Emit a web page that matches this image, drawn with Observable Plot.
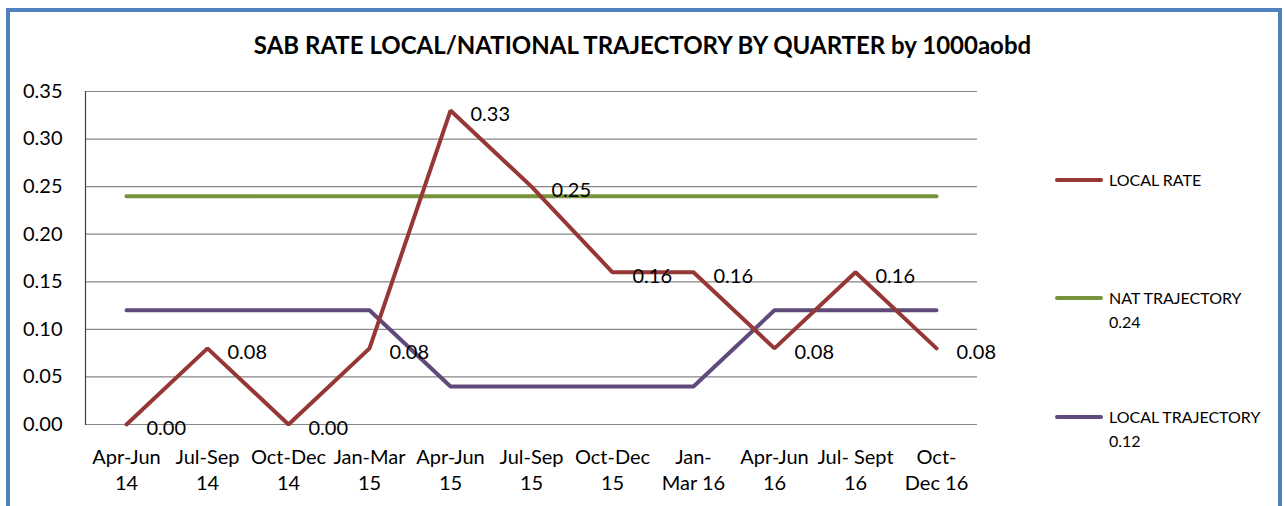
<!DOCTYPE html>
<html>
<head>
<meta charset="utf-8">
<script src="https://cdn.jsdelivr.net/npm/d3@7"></script>
<script src="https://cdn.jsdelivr.net/npm/@observablehq/plot@0.6"></script>
<style>
  html, body { margin: 0; padding: 0; background: #fff; }
  #wrap { position: relative; width: 1285px; height: 506px; overflow: hidden; font-family: Lato, "Open Sans", sans-serif; }
  #border { position: absolute; left: 6px; top: 8px; width: 1268px; height: 560px; border: 4px solid #4F81BD; box-sizing: content-box; }
  #title { position: absolute; left: 0; width: 1285px; top: 29px; text-align: center; font-weight: bold; font-size: 24px; line-height: 32px; color: #000; }
  #chart { position: absolute; left: 0; top: 0; }
  .leg { position: absolute; left: 1055px; font-size: 16px; color: #000; line-height: 24px; }
  .leg .sw { position: absolute; left: 0; top: 10px; width: 48px; height: 4px; border-radius: 2px; }
  .leg .tx { position: absolute; left: 54px; top: 0; white-space: nowrap; }
</style>
</head>
<body>
<div id="wrap">
  <div id="border"></div>
  <div id="chart"></div>
  <div id="title">SAB RATE LOCAL/NATIONAL TRAJECTORY BY QUARTER by 1000aobd</div>
  <div id="legend"></div>
</div>
<script>
const quarters = ["Apr-Jun 14","Jul-Sep 14","Oct-Dec 14","Jan-Mar 15","Apr-Jun 15","Jul-Sep 15","Oct-Dec 15","Jan-Mar 16","Apr-Jun 16","Jul-Sept 16","Oct-Dec 16"];
const tickLabels = ["Apr-Jun\n14","Jul-Sep\n14","Oct-Dec\n14","Jan-Mar\n15","Apr-Jun\n15","Jul-Sep\n15","Oct-Dec\n15","Jan-\nMar 16","Apr-Jun\n16","Jul- Sept\n16","Oct-\nDec 16"];
const localRate = [0.00, 0.08, 0.00, 0.08, 0.33, 0.25, 0.16, 0.16, 0.08, 0.16, 0.08];
const natTrajectory = [0.24, 0.24, 0.24, 0.24, 0.24, 0.24, 0.24, 0.24, 0.24, 0.24, 0.24];
const localTrajectory = [0.12, 0.12, 0.12, 0.12, 0.04, 0.04, 0.04, 0.04, 0.12, 0.12, 0.12];
const yTicks = [0, 0.05, 0.10, 0.15, 0.20, 0.25, 0.30, 0.35];

const seriesNames = ["LOCAL RATE", "NAT TRAJECTORY\n0.24", "LOCAL TRAJECTORY\n0.12"];
const seriesColors = ["#953735", "#77933C", "#604A7B"];

const rows = (vals) => quarters.map((q, i) => ({q, v: vals[i]}));
const lr = rows(localRate), nt = rows(natTrajectory), lt = rows(localTrajectory);

const chart = Plot.plot({
  width: 1285,
  height: 506,
  marginLeft: 85,
  marginRight: 308,
  marginTop: 91,
  marginBottom: 82,
  style: {fontFamily: "Lato, 'Open Sans', sans-serif", fontSize: "20px", color: "#000", background: "transparent"},
  x: {type: "point", domain: quarters, padding: 0.5},
  y: {domain: [0, 0.35]},
  marks: [
    Plot.gridY(yTicks, {stroke: "#868686", strokeOpacity: 1, strokeWidth: 1.2}),
    Plot.frame({anchor: "left", stroke: "#404040", strokeWidth: 1.2}),
    Plot.axisY(yTicks, {tickSize: 0, tickPadding: 23, tickFormat: d3.format(".2f"), fontSize: 20, label: null}),
    Plot.axisX({tickSize: 0, tickPadding: 21, tickFormat: (d) => tickLabels[quarters.indexOf(d)], fontSize: 20, lineHeight: 1.3, label: null}),
    Plot.line(lt, {x: "q", y: "v", stroke: seriesColors[2], strokeWidth: 4, strokeLinejoin: "miter"}),
    Plot.line(nt, {x: "q", y: "v", stroke: seriesColors[1], strokeWidth: 4}),
    Plot.line(lr, {x: "q", y: "v", stroke: seriesColors[0], strokeWidth: 4, strokeLinejoin: "miter"}),
    Plot.text(lr, {x: "q", y: "v", text: d => d3.format(".2f")(d.v), dx: 20, dy: 4, textAnchor: "start", fontSize: 20, fill: "#000"})
  ]
});
document.getElementById("chart").appendChild(chart);

const legendTops = [168, 286, 405];
const legend = document.getElementById("legend");
seriesNames.forEach((name, i) => {
  const el = document.createElement("div");
  el.className = "leg";
  el.style.top = legendTops[i] + "px";
  const sw = document.createElement("div");
  sw.className = "sw";
  sw.style.background = seriesColors[i];
  const tx = document.createElement("div");
  tx.className = "tx";
  tx.innerHTML = name.split("\n").join("<br>");
  el.appendChild(sw); el.appendChild(tx);
  legend.appendChild(el);
});
</script>
</body>
</html>
